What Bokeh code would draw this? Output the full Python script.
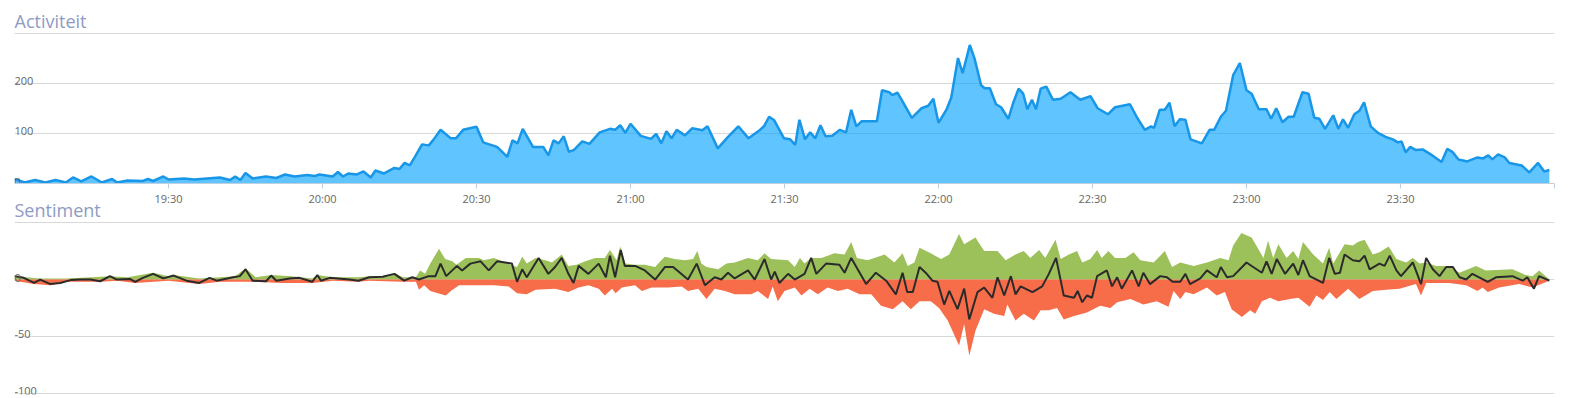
from bokeh.plotting import figure
from bokeh.layouts import column
from bokeh.models import Range1d, FixedTicker
from bokeh.core.properties import value
from bokeh.embed import file_html
from bokeh.resources import INLINE

# ---------------- data (minutes after 19:00) ----------------
activity_minutes = [0, 2, 4, 6, 8, 10, 11.4, 13, 15, 17, 19, 20, 22, 25, 26, 27, 29, 30, 33, 35, 40, 42, 43, 44, 45, 46.4, 49, 51, 52.7, 54.6, 57, 58.5, 59.4, 62, 63, 64, 65, 66.7, 68, 69.4, 70.3, 72, 74, 75, 76, 77, 78, 79.4, 80.7, 81.6, 83, 85, 86, 87.4, 90, 91.3, 94, 96, 97, 98, 99, 101, 103, 104, 105, 106, 107, 108, 109, 110.6, 112, 114, 116, 117, 118, 119, 120, 122, 124, 125, 126, 127, 128, 129, 130.6, 132, 134, 135, 137, 139, 141, 143, 145, 146, 147, 148,
                    149.9, 151.1, 152.1, 152.9, 154, 155, 156, 157, 158, 159.3, 160.8, 162, 163, 164, 165, 168, 169, 170.4, 171, 172, 173.3, 174.8, 176.7, 178, 179, 180, 181.6, 182.5, 183.8, 184.7, 186.1, 187, 188.3, 189, 190, 191.2, 192.2, 193.6, 194.6, 195.6, 196.5, 197.3, 198.2, 199, 199.9, 201, 202.3, 203.8, 205.7, 207.6, 209.6, 211, 213, 214.4, 217.3, 218.7, 220.2, 221.4, 222, 223.1, 224.1, 225, 226, 227, 228.1, 229.1, 231.3, 232.8, 233.7, 235, 236, 237.4, 238.7, 240, 241, 242.4, 243.9, 244.8, 245.8, 247, 248.2, 249.2, 250.9, 252.1, 253.2, 254.2, 255.3, 256.9, 257.9, 258.8, 259.8, 261, 262, 262.9, 264.2, 265.6, 267.1, 268.5, 269.5, 270.2, 271, 271.9, 272.9, 274.3, 276.2, 278, 279.1, 280.1, 281.3, 283, 285, 286.1, 287.1, 287.9, 289, 290.3, 291.2, 293.6, 295.1, 296.8, 298, 299]
activity_values = [9, 2, 7, 2, 7, 2, 12, 4, 14, 2, 9, 2, 6, 5, 9, 5, 14, 8, 10, 8, 12, 7, 14, 7, 21, 10, 14, 11, 18, 14, 17, 15, 18, 14, 23, 14, 20, 18, 24, 12, 26, 20, 31, 29, 41, 36, 53, 78, 76, 87, 107, 90, 90, 107, 113, 82, 73, 53, 86, 80, 109, 73, 73, 56, 86, 80, 94, 63, 67, 84, 79, 102, 109, 107, 116, 101, 119, 95, 89, 99, 80, 104, 90, 107, 96, 110, 106, 114, 70, 93, 114, 90, 105, 114, 133, 126,
                   90, 88, 77, 127, 88, 102, 90, 116, 94, 95, 107, 102, 147, 114, 124, 124, 186, 182, 176, 181, 158, 131, 150, 155, 169, 121, 148, 172, 250, 220, 276, 250, 196, 190, 190, 158, 152, 129, 162, 189, 179, 148, 167, 148, 189, 193, 167, 169, 182, 167, 174, 150, 138, 152, 158, 131, 107, 114, 111, 147, 147, 161, 114, 128, 127, 88, 80, 107, 107, 133, 145, 216, 240, 186, 179, 148, 148, 129, 150, 122, 133, 133, 182, 179, 131, 129, 109, 136, 109, 128, 111, 138, 145, 162, 114, 101, 93, 88, 82, 84, 62, 73, 67, 68, 56, 43, 69, 63, 48, 44, 52, 50, 56, 48, 58, 52, 41, 36, 22, 41, 24, 27]

positive_minutes = [0, 5, 10, 15, 18.6, 22, 27, 30, 31, 36, 40, 43, 45, 47, 50, 54, 58, 59, 62, 67,
                    69.1, 73, 74, 75.6, 78.2, 79, 80, 81, 82.7, 83.9, 85.3, 86.1, 87.9, 90.5, 91.4, 93.4, 95, 96.6, 97.9, 98.9, 99.8, 101.5, 103.4, 104.7, 106.6, 107.9, 109.5, 111.2, 113.1, 115, 116, 117.3, 118, 119, 120.9, 122.8, 124.8, 126, 126.7, 128.6, 130.6, 132.2, 133, 133.8, 134.8, 137.1, 138.7, 140.3, 142.9, 144.8, 146.1,
                    147.4, 150.7, 152, 153, 153.9, 155.2, 157.2, 159.7, 161.7, 163, 164.1, 166.2, 167.5, 169.5, 171.4, 173, 174, 175.3, 176.3, 178.5, 180.5, 182.1, 184, 185, 187.2, 188.9, 191.5, 193.1, 195, 196.6, 197.9, 199.6, 200.8, 202.8, 203.8, 205.4, 207, 208, 209.6, 210.9, 211.8, 213.1, 214.4, 216.4, 218, 219.3, 221.9, 224.1,
                    225.5, 227.1, 229.7, 232.3, 234.9, 236.5, 237.4, 239, 241, 243.3, 244.2, 245.2, 246.2, 247.8, 249.1, 250.1, 251, 253, 254.9, 256.1, 256.9, 259.1, 260.7, 261.7, 263, 264.6, 265.9, 267.7, 269.2, 271.1, 272.4, 273.7, 275, 276.9, 279.5, 281.5, 284.7, 286.6, 291.8, 294.4, 295.7, 297, 299]
positive_values = [3, 1, 1, 2, 3, 2, 6, 3, 4, 1, 2, 3, 10, 2, 4, 3, 1, 4, 2, 2,
                   3, 3, 6, 2, 2, 8, 5, 14, 27, 18, 16, 13, 19, 19, 17, 19, 16, 13, 11, 20, 14, 19, 17, 15, 22, 12, 13, 16, 19, 19, 26, 17, 29, 14, 13, 13, 11, 17, 20, 18, 17, 18, 25, 14, 11, 9, 14, 15, 19, 17, 23,
                   18, 17, 11, 19, 14, 19, 19, 23, 22, 33, 19, 17, 19, 22, 15, 23, 12, 15, 28, 23, 18, 22, 40, 31, 37, 25, 25, 17, 22, 25, 19, 26, 19, 35, 18, 22, 25, 15, 18, 26, 19, 25, 19, 19, 24, 17, 15, 25,
                   11, 15, 12, 15, 19, 17, 30, 41, 37, 19, 34, 19, 31, 19, 25, 18, 33, 22, 14, 28, 14, 31, 30, 33, 35, 22, 24, 29, 18, 15, 19, 14, 15, 12, 12, 6, 12, 8, 9, 4, 3, 8, 0]

negative_minutes = [0, 3.8, 7, 10, 16.7, 20, 23.5, 30, 36, 40, 46.4, 52, 58, 62, 67,
                    69.1, 75.6, 78.2, 78.8, 79.8, 81, 84, 85, 86.6, 89.8, 93.4, 96.3, 97.9, 99.8, 101.5, 105.3, 107.9, 109.9, 111.8, 113.8, 115, 116.4, 117.1, 118.3, 120.9, 122.2, 124.1, 127.3, 130, 131.2, 133.2, 134.8, 136.4, 138.4, 140.3, 143.5, 144.8, 146.8, 147.7, 148.7,
                    150, 152, 153.3, 154.9, 156.5, 158.4, 160.4, 162.3, 164.6, 166.9, 168.8, 171.1, 173, 174.6, 176.3, 178.5, 180.1, 181.8, 184, 185, 186, 187.2, 188.9, 190.8, 192.8, 193.4, 195, 196.6, 198.6, 199.9, 201.5, 203.1, 204.4, 206.4, 208.9, 211.5, 213.5, 214.8, 217.4, 219.9, 222.5, 224.8,
                    225.8, 227.1, 228.1, 229.7, 232.3, 234.2, 235.8, 237.1, 239.1, 240.7, 241.7, 243, 244.6, 246.2, 248.5, 250.1, 252.3, 253.6, 254.9, 256.2, 257.5, 259.8, 262, 264.6, 267.2, 269.8, 273, 274, 275, 279.5, 282.8, 285, 286, 287, 289.2, 293.1, 295.7, 299]
negative_values = [-1, -4, -5, -2, -2, -1, -3, -1, -4, -2, -2, -3, -3, -1, -2,
                   -1, -2, -2, -9, -5, -10, -14, -10, -5, -5, -5, -6, -12, -13, -9, -8, -11, -7, -5, -8, -14, -8, -12, -7, -5, -10, -7, -7, -6, -10, -8, -17, -8, -10, -13, -13, -10, -17, -6, -19,
                   -10, -7, -14, -8, -13, -7, -10, -8, -13, -13, -23, -26, -19, -26, -19, -19, -25, -36, -58, -39, -67, -45, -26, -30, -32, -22, -36, -30, -36, -27, -27, -25, -35, -32, -29, -23, -25, -20, -17, -22, -19, -24,
                   -10, -17, -11, -13, -7, -14, -11, -26, -33, -27, -30, -19, -16, -19, -17, -16, -24, -14, -18, -11, -17, -8, -17, -10, -9, -8, -4, -14, -3, -3, -5, -10, -7, -11, -7, -4, -7, -1]

net_minutes = [0, 1.8, 3.8, 5, 7, 8.9, 10.9, 12.8, 14.8, 16.7, 18.6, 19.9, 22.5, 23.5, 25, 27, 29, 31, 33.5, 36, 38, 39.4, 42.6, 43.9, 45, 46.4, 49, 50, 51, 53.6, 55.5, 58, 59, 59.7, 61.4, 65.2, 67,
               69.1, 71.7, 74, 75.9, 77.5, 78.8, 80.7, 82, 83, 84.1, 86.2, 87.2, 88.8, 90.8, 92.4, 94, 96.9, 97.9, 98.9, 99.8, 102.1, 104, 105.3, 106.6, 107.9, 108.9, 109.9, 111.8, 113.8, 115.2, 116, 117, 118.1, 118.9, 120.9, 122.8, 124.8, 126.7, 128.3, 131.2, 132.9, 134.5, 136.4, 137.7, 139, 140.3, 142.9, 144.2, 146.1, 147.4,
               148.1, 149, 150.7, 152, 153.9, 155.2, 156.2, 158.1, 160.7, 161.7, 163, 164, 165.9, 167.8, 169.8, 171.7, 173, 173.9, 175, 176.3, 177.5, 178.8, 179.8, 181.1, 182.1, 183.7, 185, 186, 187.6, 188.9, 190.5, 191.5, 192.8, 194.1, 195, 196, 198.3, 200.2, 201.5, 202.9, 204.4, 206.4, 207.1, 208, 208.9, 209.9, 210.9, 212.8, 213.8, 214.8, 215.7, 217.7, 219, 219.9, 221.2, 223.2,
               224.5, 225.6, 227.1, 228.1, 229, 231, 232.3, 234.2, 235, 236.2, 237.4, 240, 241.3, 243, 243.9, 244.9, 245.9, 247.5, 249.1, 250.1, 251, 252.3, 254.9, 256.1, 257.2, 258.2, 259.1, 260.7, 262, 263, 264, 265.9, 266.9, 267.9, 269.2, 270.1, 272.4, 274, 275, 276.3, 277.6, 278.9, 280.2, 281.5, 282.8, 284, 287, 288.6, 291.8, 293.8, 294.7, 296, 297, 299]
net_values = [3, 1.5, -3, 0, -4, -3, -0.5, 0, 0, -1.5, 3, 0, 0.5, -2, 1.5, 5, 1, 3.5, -1, -3, 1.5, -1, 2, 3, 9, -1, -1.5, 3.5, -1, 1, 1.5, -2, 4, -1, 1.5, 0, -1,
              2, 2.5, 5, -1, 2, 0, 3, 3, 14, 3, 12, 8, 14, 16, 8, 16, 14, -2, 9, 2, 19, 5, 11, 19, 5, -3, 12, 5, 14, 2, 21, 2, 26, 12, 12, 8, 0, 11, 11, 0, 14, -5, 2, 0, 6, 1, 8, 0, 18, 0,
              7, -3, 5, 0, 5, 19, 5, 14, 13, 6, 19, 11, -4, 6, -1, -13, 6, -11, -11, 11, 6, -1, -2, -22, -10, -26, -8, -35, -11, -7, -16, 2, -14, 3, -13, -6, -11, -6, 5, 19, -14, -16, -10, -20, -14, -16, 3, 8, -6, 2, -8, 8, -6, 6, -4, 3,
              2, -2, -2, 5, -4, 1, 8, 2, 11, 2, 3, 15, 11, 6, 16, 5, 18, 5, 14, 4, 17, 3, -3, 19, 5, 6, 22, 17, 16, 21, 9, 14, 12, 21, 8, 3, 15, -4, 19, 9, 3, 11, 11, 2, 0, 5, -2, 2, 3, -1, 2, -8, 3, -1]

tick_minutes = [30, 60, 90, 120, 150, 180, 210, 240, 270, 300]
tick_labels = ["19:30", "20:00", "20:30", "21:00", "21:30", "22:00", "22:30", "23:00", "23:30", ""]
activity_ticks = [0, 100, 200, 300]
activity_tick_labels = ["0", "100", "200"]
sentiment_ticks = [-100, -50, 0, 50]
sentiment_tick_labels = ["-100", "-50", "0"]

FONT = "Open Sans"
TITLE_COLOR = "#8e9bc6"
LABEL_COLOR = "#666666"
GRID_COLOR = "#d8d8d8"


def base_fig(title, frame_h, y_lo, y_hi, top, bottom, xaxis, yticks):
    p = figure(frame_width=1540, frame_height=frame_h,
               x_range=Range1d(0, 300), y_range=Range1d(y_lo, y_hi),
               output_backend="svg", toolbar_location=None,
               y_axis_location=None, x_axis_location="below" if xaxis else None,
               min_border_left=14, min_border_right=15,
               min_border_top=top, min_border_bottom=bottom)
    p.outline_line_color = None
    p.background_fill_color = "white"
    p.border_fill_color = "white"
    for g in p.xgrid:
        g.visible = False
    for g in p.ygrid:
        g.ticker = FixedTicker(ticks=yticks)
        g.grid_line_color = GRID_COLOR
        g.grid_line_width = 1
    p.title.text = title
    p.title.text_font = FONT
    p.title.text_font_size = "18px"
    p.title.text_font_style = "normal"
    p.title.text_color = TITLE_COLOR
    p.title.align = "left"
    p.title.offset = 0
    p.title.standoff = 0
    return p


# ---------------- Activiteit ----------------
p1 = base_fig("Activiteit", 151, 0, 301, 32, 0, True, activity_ticks)
ax = p1.xaxis[0]
ax.ticker = FixedTicker(ticks=tick_minutes)
ax.major_label_overrides = {m: l for m, l in zip(tick_minutes, tick_labels)}
ax.axis_line_color = "#C0D0E0"
ax.major_tick_line_color = "#C0D0E0"
ax.major_tick_in = 0
ax.major_tick_out = 5
ax.minor_tick_line_color = None
ax.major_label_standoff = 2
ax.major_label_text_font = FONT
ax.major_label_text_font_size = "11px"
ax.major_label_text_color = LABEL_COLOR

p1.varea(x=activity_minutes, y1=0, y2=activity_values,
         fill_color="#0ba5fe", fill_alpha=0.65)
p1.line(activity_minutes, activity_values, line_color="#1896e8", line_width=2.5)
p1.text(x=[0] * len(activity_tick_labels), y=activity_ticks[:len(activity_tick_labels)],
        text=activity_tick_labels, text_font=value(FONT), text_font_size="11px",
        text_color=LABEL_COLOR, text_align="left", text_baseline="alphabetic", y_offset=-2)

# ---------------- Sentiment ----------------
p2 = base_fig("Sentiment", 173, -101, 51, 10, 3, False, sentiment_ticks)
p2.border_fill_alpha = 0
p2.margin = (-13, 0, 0, 0)
p2.varea(x=positive_minutes, y1=0, y2=positive_values, fill_color="#9cc05a", fill_alpha=1.0)
p2.varea(x=negative_minutes, y1=negative_values, y2=0, fill_color="#f76c49", fill_alpha=1.0)
p2.line(net_minutes, net_values, line_color="#2b2b2b", line_width=2)
p2.text(x=[0] * len(sentiment_tick_labels), y=sentiment_ticks[:len(sentiment_tick_labels)],
        text=sentiment_tick_labels, text_font=value(FONT), text_font_size="11px",
        text_color=LABEL_COLOR, text_align="left", text_baseline="alphabetic", y_offset=-2)

layout = column(p1, p2, spacing=0)
open("out.html", "w").write(file_html(layout, INLINE))
